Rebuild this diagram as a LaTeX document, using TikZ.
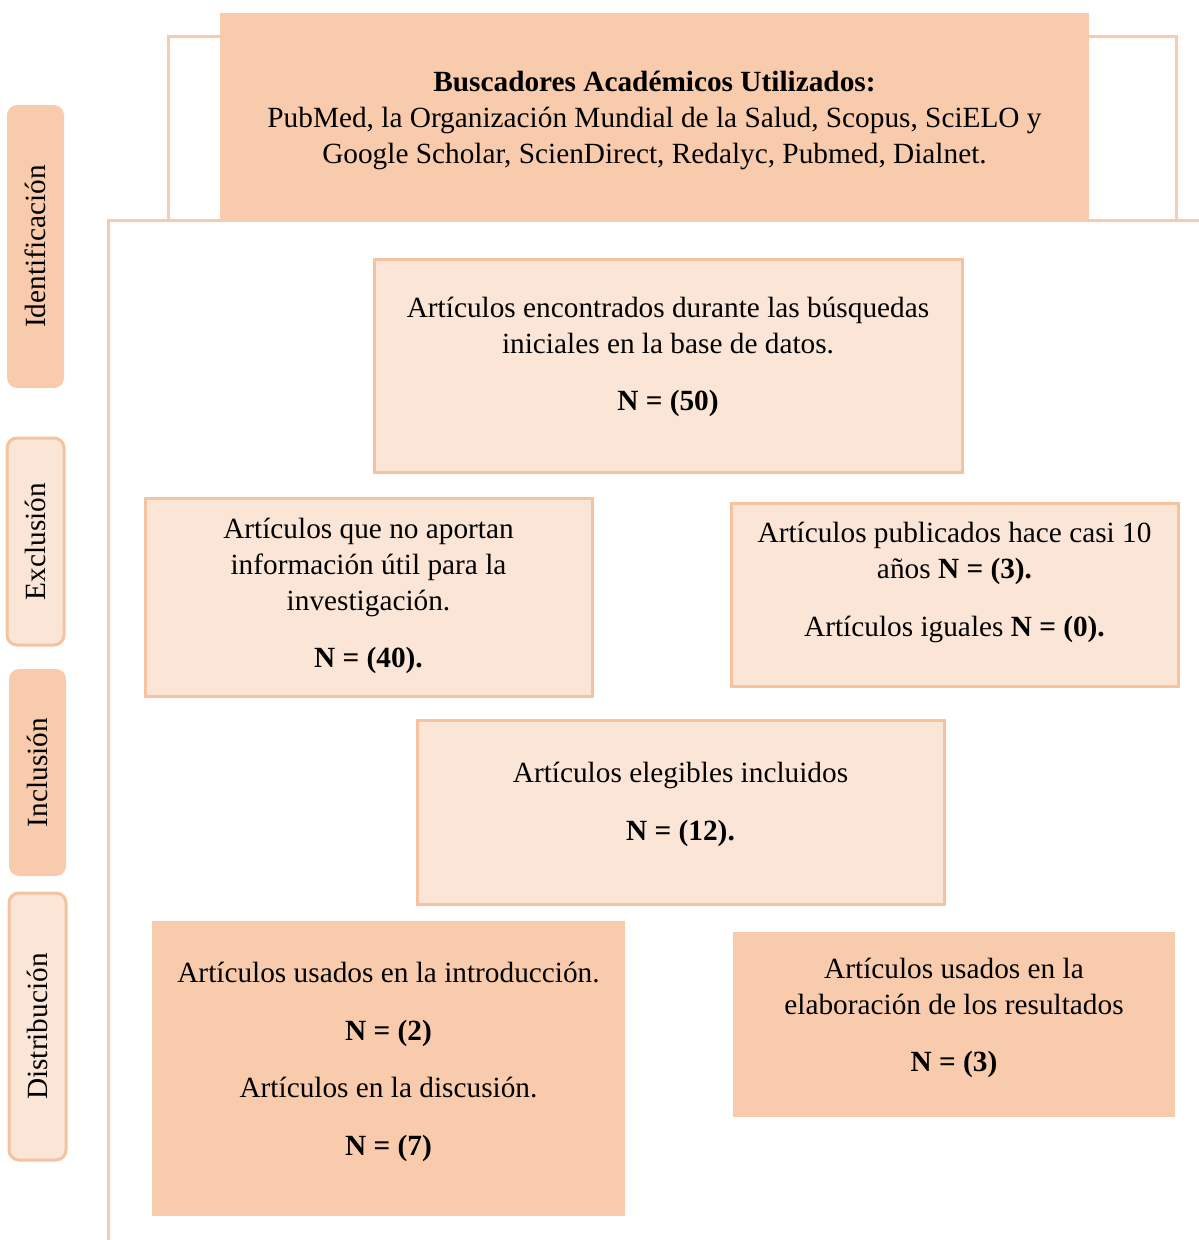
\documentclass[tikz,border=0pt]{standalone}
\usepackage{fontspec}
\setmainfont{Liberation Serif}
\usetikzlibrary{positioning}

\definecolor{durazno}{HTML}{F8CBAD}
\definecolor{duraznoclaro}{HTML}{FBE5D6}
\definecolor{borde}{HTML}{F5C3A0}

\tikzset{
  fase/.style={rotate=90, rounded corners=10pt, inner sep=0pt, outer sep=0pt},
  caja/.style={draw=borde, line width=3pt, fill=duraznoclaro, inner sep=0pt, outer sep=0pt},
  cajaosc/.style={fill=durazno, inner sep=0pt, outer sep=0pt},
  texto/.style={align=center, inner sep=0pt},
  marco/.style={draw=durazno, line width=3pt}
}

\begin{document}
\begin{tikzpicture}[x=1pt, y=-1pt, font=\fontsize{29.3}{36}\selectfont]
  \useasboundingbox (0,0) rectangle (1199,1240);
  % marco de fondo
  \draw[marco] (168,220) |- (1176,36) -- (1176,220);
  \draw[marco] (108,1240) |- (1199,220);
  % buscadores
  \node[cajaosc, minimum width=869pt, minimum height=207pt] (busc) at (654.5,116.5) {};
  \node[texto] (busc-t) at ([yshift=-4pt]busc.center)
    {\textbf{Buscadores Académicos Utilizados:}\\
     PubMed, la Organización Mundial de la Salud, Scopus, SciELO y\\
     Google Scholar, ScienDirect, Redalyc, Pubmed, Dialnet.};
  % fases a la izquierda
  \foreach \nom/\y/\alto/\x/\tipo/\txt in
  {
    ident/246.5/283/35.5/1/Identificación,
    excl/541.5/207/35.5/0/Exclusión,
    incl/772.5/207/37.5/1/Inclusión,
    dist/1026.5/267/37.5/0/Distribución
  }
  {
    \ifnum\tipo=1
      \node[fase, fill=durazno, minimum width=\alto pt, minimum height=57pt] (\nom) at (\x,\y) {\txt};
    \else
      \node[fase, fill=duraznoclaro, draw=borde, line width=3pt, minimum width=\alto pt, minimum height=57pt] (\nom) at (\x,\y) {\txt};
    \fi
  }
  % cajas
  \node[caja, minimum width=588pt, minimum height=213pt] (encon) at (668,365.5) {};
  \node[texto] (encon-t) at ([yshift=9pt]encon.center)
    {Artículos encontrados durante las búsquedas\\
     iniciales en la base de datos.\\[21pt]
     \textbf{N = (50)}};
  \node[caja, minimum width=447pt, minimum height=198pt] (noaport) at (368.5,597) {};
  \node[texto] (noaport-t) at ([yshift=1pt]noaport.center)
    {Artículos que no aportan\\
     información útil para la\\
     investigación.\\[21pt]
     \textbf{N = (40).}};
  \node[caja, minimum width=447pt, minimum height=183pt] (public) at (954.5,594.5) {};
  \node[texto] (public-t) at ([yshift=12pt]public.center)
    {Artículos publicados hace casi 10\\
     años \textbf{N = (3).}\\[22pt]
     Artículos iguales \textbf{N = (0).}};
  \node[caja, minimum width=527pt, minimum height=184pt] (eleg) at (680.5,812) {};
  \node[texto] (eleg-t) at ([yshift=8pt]eleg.center)
    {Artículos elegibles incluidos\\[22pt]
     \textbf{N = (12).}};
  \node[cajaosc, minimum width=473pt, minimum height=295pt] (intro) at (388.5,1068.5) {};
  \node[texto] (intro-t) at ([yshift=7pt]intro.center)
    {Artículos usados en la introducción.\\[22pt]
     \textbf{N = (2)}\\[21pt]
     Artículos en la discusión.\\[22pt]
     \textbf{N = (7)}};
  \node[cajaosc, minimum width=442pt, minimum height=185pt] (result) at (954,1024.5) {};
  \node[texto] (result-t) at ([yshift=7pt]result.center)
    {Artículos usados en la\\
     elaboración de los resultados\\[21pt]
     \textbf{N = (3)}};
\end{tikzpicture}
\end{document}
